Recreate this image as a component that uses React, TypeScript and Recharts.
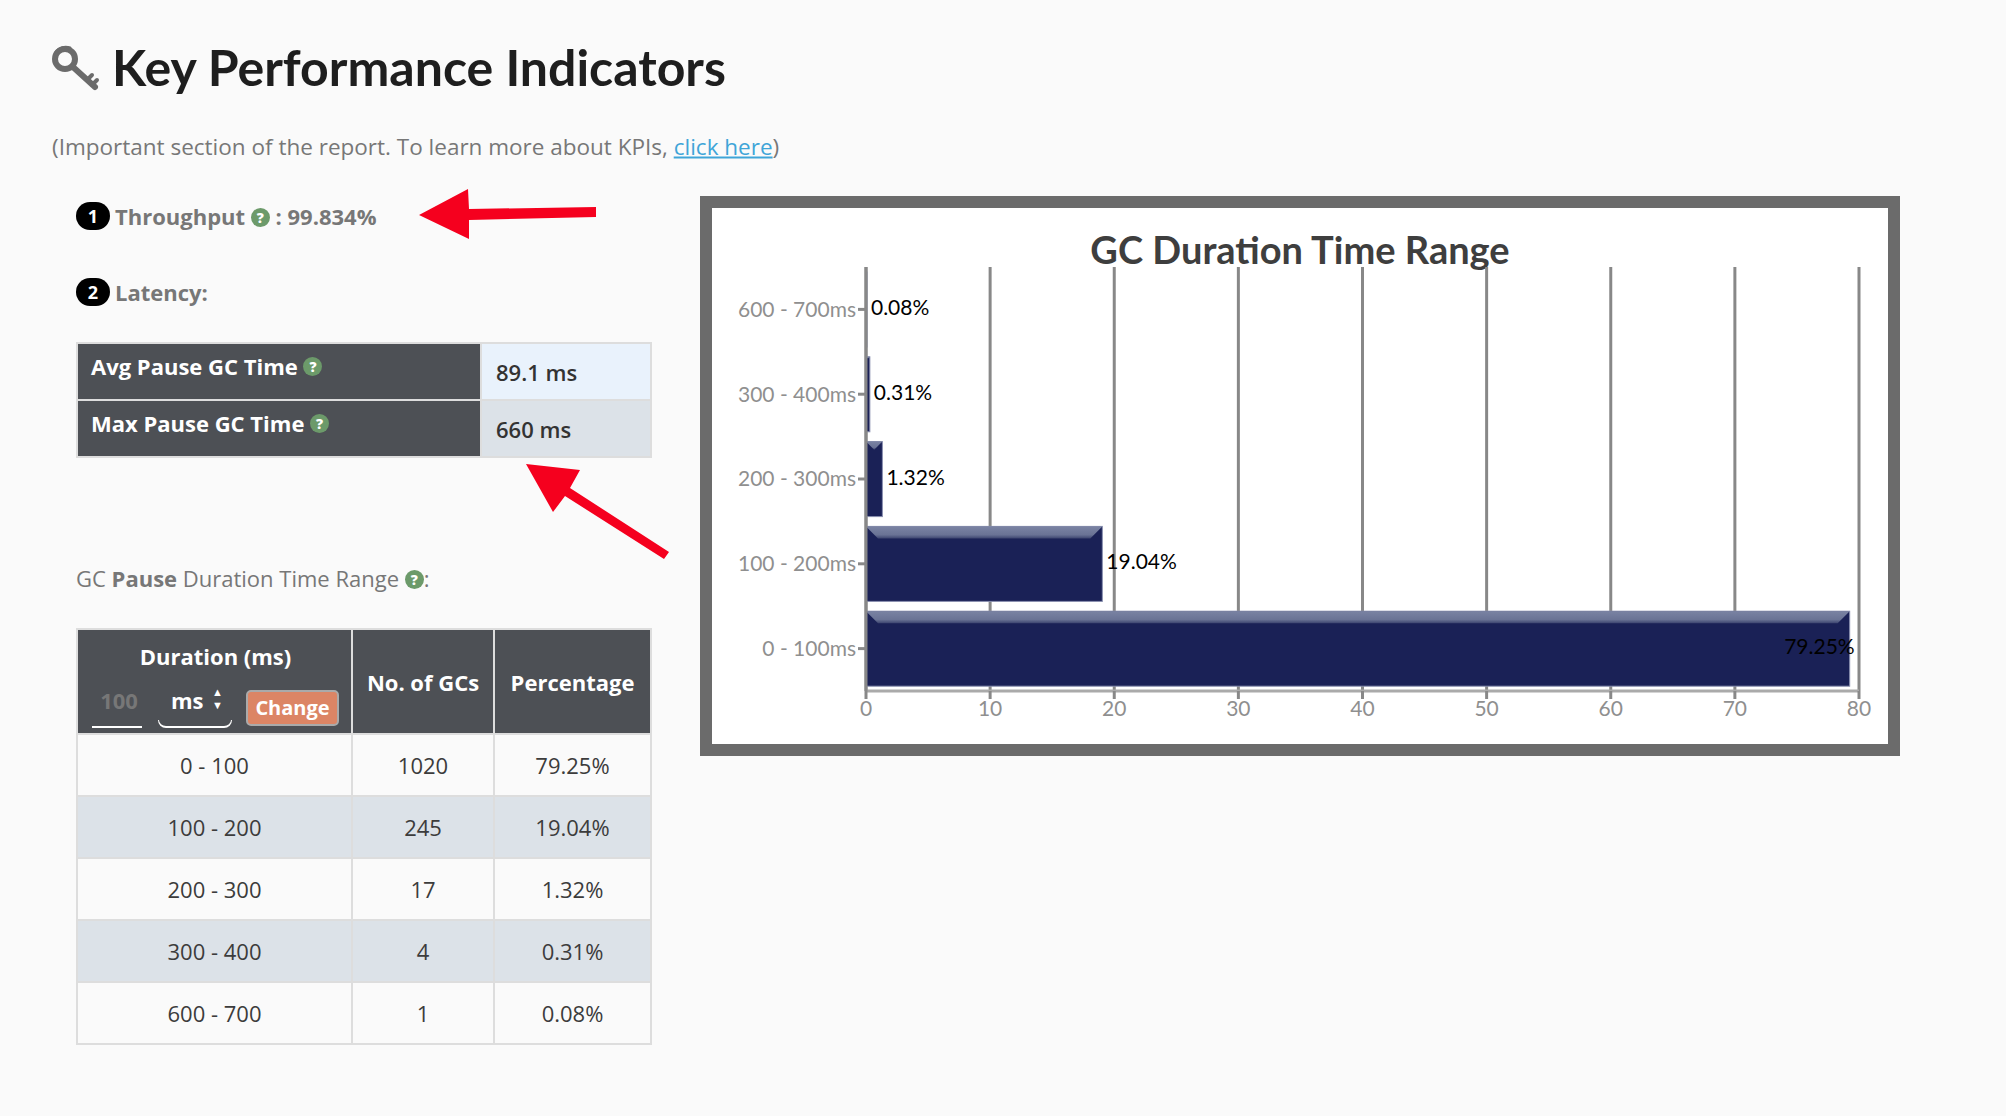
import React from 'react'
import { BarChart, Bar, XAxis, YAxis, CartesianGrid, LabelList } from 'recharts'

const durationRanges = ['0 - 100', '100 - 200', '200 - 300', '300 - 400', '600 - 700']
const gcCounts = [1020, 245, 17, 4, 1]
const percentages = [79.25, 19.04, 1.32, 0.31, 0.08]
const xTicks = [0, 10, 20, 30, 40, 50, 60, 70, 80]

const chartData = durationRanges.map((r, i) => ({ range: `${r}ms`, pct: percentages[i] }))

const SANS = '"Open Sans", sans-serif'
const CHART_FONT = 'Lato, sans-serif'

function Help({ size = 19 }: { size?: number }) {
  return (
    <span style={{
      display: 'inline-block', width: size, height: size, borderRadius: '50%', background: '#6c9a6a',
      color: '#fff', fontSize: size - 5, fontWeight: 800, lineHeight: `${size}px`, textAlign: 'center',
      verticalAlign: 'middle', position: 'relative', top: -2,
    }}>?</span>
  )
}

function At({ x, y, children, style }: { x: number; y: number; children: React.ReactNode; style?: React.CSSProperties }) {
  // y is the vertical centre of the line of text
  return (
    <div style={{ position: 'absolute', left: x, top: y, transform: 'translateY(-50%)', whiteSpace: 'nowrap', ...style }}>
      {children}
    </div>
  )
}

function Pill({ n, y }: { n: number; y: number }) {
  return (
    <div style={{
      position: 'absolute', left: 76, top: y - 14, width: 34, height: 28, borderRadius: 14, background: '#000',
      color: '#fff', fontFamily: SANS, fontWeight: 700, fontSize: 18, lineHeight: '28px', textAlign: 'center',
    }}>{n}</div>
  )
}

function BevelBar(props: any) {
  const { x, y, width, height } = props
  const inset = Math.min(12, width / 2)
  return (
    <g>
      <rect x={x} y={y} width={width} height={height} fill="#1a2156" stroke="#8a90b0" strokeWidth={1} />
      <polygon
        points={`${x},${y} ${x + width},${y} ${x + width - inset},${y + inset} ${x + inset},${y + inset}`}
        fill="url(#bevel)"
      />
    </g>
  )
}

function PctLabel(props: any) {
  const { x, y, width, height, value } = props
  const inside = width > 900
  return (
    <text
      x={inside ? x + width + 5 : x + width + 4}
      y={y + height / 2 - 3}
      textAnchor={inside ? 'end' : 'start'}
      dominantBaseline="central"
      fill="#000"
      fontFamily={CHART_FONT}
      fontSize={21}
    >
      {value}%
    </text>
  )
}

const cell: React.CSSProperties = { border: '2px solid #ddd', padding: 0, textAlign: 'center', fontSize: 22, color: '#3c3c3c' }
const head: React.CSSProperties = { ...cell, background: '#4d5055', color: '#fff', fontWeight: 700 }

export default function App() {
  return (
    <div style={{ position: 'absolute', left: 0, top: 0, width: 2006, height: 1116, background: '#fafafa', fontFamily: SANS, overflow: 'hidden' }}>
      <svg width={60} height={60} style={{ position: 'absolute', left: 46, top: 40 }} viewBox="0 0 60 60">
        <g fill="none" stroke="#6b6b6b" strokeLinecap="round">
          <circle cx={19} cy={19} r={10} strokeWidth={6} />
          <path d="M27 27 L49 47" strokeWidth={6} />
          <path d="M41 40 L46 35 M46 45 L51 40" strokeWidth={4} />
          <path d="M10 12 A12 12 0 0 1 24 8" strokeWidth={3} />
        </g>
      </svg>
      <At x={112} y={67} style={{ fontFamily: 'Lato, sans-serif', fontWeight: 700, fontSize: 50, color: '#1e1e1e' }}>
        Key Performance Indicators
      </At>
      <At x={52} y={146} style={{ fontSize: 22.5, color: '#777' }}>
        (Important section of the report. To learn more about KPIs, <span style={{ color: '#3fa5d8', textDecoration: 'underline' }}>click here</span>)
      </At>

      <Pill n={1} y={216} />
      <At x={115} y={216} style={{ fontSize: 22, fontWeight: 700, color: '#777' }}>
        Throughput <Help /> : 99.834%
      </At>
      <Pill n={2} y={292} />
      <At x={115} y={292} style={{ fontSize: 22, fontWeight: 700, color: '#777' }}>Latency:</At>

      {/* arrows */}
      <svg width={2006} height={1116} style={{ position: 'absolute', left: 0, top: 0, pointerEvents: 'none' }}>
        <polygon fill="#f5001e" points="419,215 468,189 469,209 596,207 596,217 469,220 469,239" />
        <polygon fill="#f5001e" points="526,464 580,470 570,488 669,552 664,559 565,496 553,512" />
      </svg>

      {/* latency table */}
      <table style={{ position: 'absolute', left: 76, top: 342, width: 574, borderCollapse: 'collapse', tableLayout: 'fixed' }}>
        <colgroup><col style={{ width: 404 }} /><col style={{ width: 170 }} /></colgroup>
        <tbody>
          <tr style={{ height: 57 }}>
            <td style={{ ...head, textAlign: 'left', paddingLeft: 13, paddingBottom: 12 }}>Avg Pause GC Time <Help /></td>
            <td style={{ ...cell, background: '#e9f2fc', color: '#333', fontWeight: 600, textAlign: 'left', paddingLeft: 14 }}>89.1 ms</td>
          </tr>
          <tr style={{ height: 57 }}>
            <td style={{ ...head, textAlign: 'left', paddingLeft: 13, paddingBottom: 12 }}>Max Pause GC Time <Help /></td>
            <td style={{ ...cell, background: '#dce2e8', color: '#333', fontWeight: 600, textAlign: 'left', paddingLeft: 14 }}>660 ms</td>
          </tr>
        </tbody>
      </table>

      <At x={76} y={578} style={{ fontSize: 22, color: '#777' }}>
        GC <b>Pause</b> Duration Time Range <Help />:
      </At>

      {/* duration table */}
      <table style={{ position: 'absolute', left: 76, top: 628, width: 574, borderCollapse: 'collapse', tableLayout: 'fixed' }}>
        <colgroup><col style={{ width: 275 }} /><col style={{ width: 142 }} /><col style={{ width: 157 }} /></colgroup>
        <thead>
          <tr style={{ height: 105 }}>
            <th style={{ ...head, position: 'relative' }}>
              <At x={0} y={26} style={{ width: 275, textAlign: 'center' }}>Duration (ms)</At>
              <At x={16} y={70} style={{ width: 50, color: '#777', textAlign: 'center' }}>100</At>
              <div style={{ position: 'absolute', left: 14, top: 96, width: 50, height: 2, background: '#fff' }} />
              <At x={93} y={70} style={{ fontWeight: 700 }}>ms</At>
              <At x={134} y={68} style={{ fontSize: 11, lineHeight: '13px' }}>▲<br />▼</At>
              <div style={{ position: 'absolute', left: 80, top: 90, width: 72, height: 6, borderBottom: '2px solid #fff', borderLeft: '1px solid #fff', borderRight: '1px solid #fff', borderRadius: '0 0 8px 8px', boxSizing: 'content-box' }} />
              <div style={{
                position: 'absolute', left: 168, top: 60, width: 93, height: 36, boxSizing: 'border-box', background: '#dc8565',
                border: '2px solid #aaa', borderRadius: 5, fontSize: 20, lineHeight: '32px', color: '#fff',
              }}>Change</div>
            </th>
            <th style={head}>No. of GCs</th>
            <th style={head}>Percentage</th>
          </tr>
        </thead>
        <tbody>
          {durationRanges.map((r, i) => (
            <tr key={r} style={{ height: 62 }}>
              {[r, String(gcCounts[i]), `${percentages[i]}%`].map(t => (
                <td key={t} style={{ ...cell, background: i % 2 ? '#dce2e8' : '#fafafa' }}>{t}</td>
              ))}
            </tr>
          ))}
        </tbody>
      </table>

      {/* chart frame */}
      <div style={{ position: 'absolute', left: 700, top: 196, width: 1200, height: 560, boxSizing: 'border-box', border: '12px solid #6b6b6b', background: '#fff' }}>
        <div style={{ position: 'absolute', left: 0, right: 0, top: 21, lineHeight: '40px', textAlign: 'center', fontFamily: CHART_FONT, fontWeight: 700, fontSize: 38, color: '#3e3e3e' }}>
          GC Duration Time Range
        </div>
        <BarChart width={1176} height={536} data={chartData} layout="vertical" margin={{ top: 59, right: 29, left: 0, bottom: 0 }}>
          <defs>
            <linearGradient id="bevel" x1="0" y1="0" x2="0" y2="1">
              <stop offset="0" stopColor="#7a83a3" />
              <stop offset="0.7" stopColor="#6a7395" />
              <stop offset="1" stopColor="#3d4570" />
            </linearGradient>
          </defs>
          <CartesianGrid horizontal={false} stroke="#888" strokeWidth={3} />
          <XAxis
            type="number"
            domain={[0, 80]}
            ticks={xTicks}
            height={53}
            tickSize={8}
            stroke="#aaa"
            strokeWidth={3}
            tickLine={{ stroke: '#888', strokeWidth: 3 }}
            tick={{ fontSize: 21, fontFamily: CHART_FONT, fill: '#8f8f8f' }}
          />
          <YAxis
            type="category"
            dataKey="range"
            reversed
            width={154}
            tickSize={8}
            stroke="#888"
            strokeWidth={3}
            tickLine={{ stroke: '#888', strokeWidth: 3 }}
            tick={{ fontSize: 21, fontFamily: CHART_FONT, fill: '#8f8f8f' }}
            interval={0}
          />
          <Bar dataKey="pct" barSize={75} shape={BevelBar} isAnimationActive={false}>
            <LabelList dataKey="pct" content={PctLabel} />
          </Bar>
        </BarChart>
      </div>
    </div>
  )
}
